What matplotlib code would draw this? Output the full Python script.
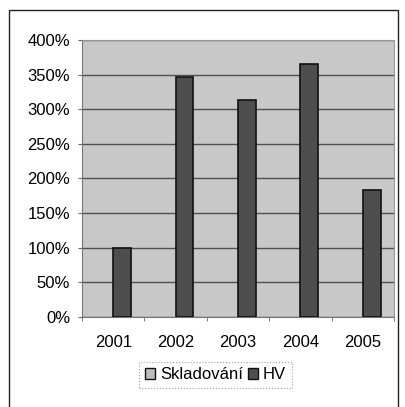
import matplotlib
matplotlib.use("Agg")
import matplotlib.pyplot as plt
from matplotlib.patches import Rectangle, Patch
from matplotlib.ticker import FuncFormatter, MultipleLocator, FixedLocator
import numpy as np

plt.rcParams['font.family'] = ['Liberation Sans', 'DejaVu Sans']

years = ["2001", "2002", "2003", "2004", "2005"]
skladovani = [0, 0, 0, 0, 0]
hv = [100, 346, 314, 365, 183]
series_names = ["Skladování", "HV"]

fig = plt.figure(figsize=(4.05, 4.07), dpi=100)
# outer chart border
fig.patches.append(Rectangle((9/405, -0.05), (398-9)/405, (407-10)/407 + 0.05,
                             transform=fig.transFigure, fill=False,
                             edgecolor='#222222', linewidth=1.0))

ax = fig.add_axes([82/405, (407-317)/407, (394-82)/405, (317-40)/407])
ax.set_facecolor('#c8c8c8')

x = np.arange(len(years))
bw = 1.0 / 3.5
ax.bar(x - bw/2, skladovani, bw, color='#bdbdbd', edgecolor='#111111', linewidth=0)
ax.bar(x + bw/2, hv, bw, color='#4e4e4e', edgecolor='#111111', linewidth=1.2, zorder=3)

ax.set_xlim(-0.5, len(years) - 0.5)
ax.set_ylim(0, 400)
ax.yaxis.set_major_locator(MultipleLocator(50))
ax.yaxis.set_major_formatter(FuncFormatter(lambda v, p: f"{int(v)}%"))
ax.grid(axis='y', color='#505050', linewidth=1.0)
ax.set_axisbelow(True)

ax.set_xticks(x)
ax.set_xticklabels(years)
ax.xaxis.set_minor_locator(FixedLocator(np.arange(-0.5, len(years), 1.0)))
ax.tick_params(axis='x', which='major', length=0, pad=13, labelsize=12)
ax.tick_params(axis='x', which='minor', length=3, color='#666666')
ax.tick_params(axis='y', length=3, color='#666666', pad=5.5, labelsize=12)

for s in ['top', 'right']:
    ax.spines[s].set_color('#999999')
    ax.spines[s].set_linewidth(0.8)
ax.spines['left'].set_color('#777777')
ax.spines['bottom'].set_color('#777777')

handles = [Patch(facecolor='#bdbdbd', edgecolor='#111111', label=series_names[0]),
           Patch(facecolor='#4e4e4e', edgecolor='#111111', label=series_names[1])]
leg = fig.legend(handles=handles, loc='center', bbox_to_anchor=(0.532, 0.079),
                 ncol=2, frameon=True, fancybox=False, fontsize=12,
                 handlelength=0.6, handleheight=0.6, handletextpad=0.3,
                 columnspacing=0.3, borderpad=0.35)
leg.get_frame().set_edgecolor('#888888')
leg.get_frame().set_linestyle(':')
leg.get_frame().set_linewidth(0.8)

fig.savefig("out.png", dpi=100)
